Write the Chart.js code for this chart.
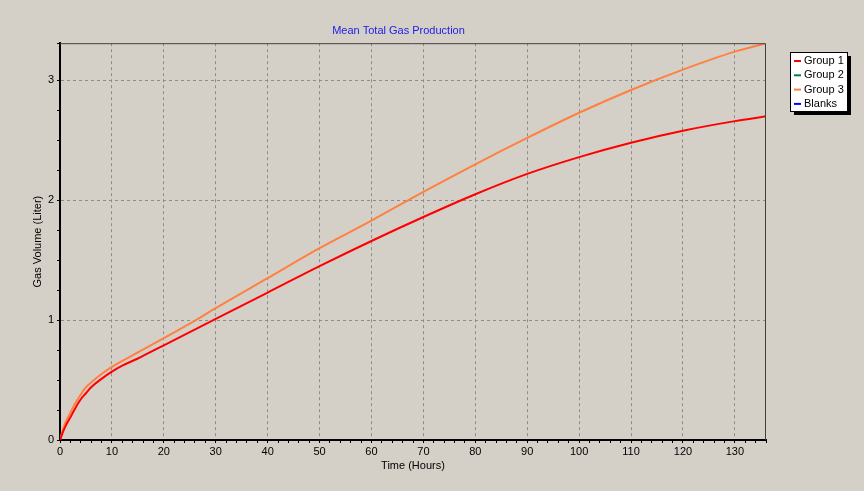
<!DOCTYPE html>
<html>
<head>
<meta charset="utf-8">
<script src="https://cdn.jsdelivr.net/npm/chart.js@4.4.1/dist/chart.umd.min.js"></script>
<style>
  html, body { margin: 0; padding: 0; background: #d4d0c8; }
  #wrap { width: 864px; height: 491px; position: relative; }
</style>
</head>
<body>
<div id="wrap"><canvas id="gasChart" width="864" height="491"></canvas></div>
<script>
// values
const hours = [0, 0.5, 1, 2, 3, 4, 5, 6, 8, 10, 12, 15, 20, 25, 30, 40, 50, 60, 70, 80, 90, 100, 110, 120, 130, 136];
const group1 = [0, 0.06, 0.11, 0.19, 0.27, 0.34, 0.39, 0.44, 0.51, 0.57, 0.62, 0.68, 0.79, 0.90, 1.01, 1.23, 1.45, 1.66, 1.86, 2.05, 2.22, 2.36, 2.48, 2.58, 2.66, 2.70];
const group2 = [];
const group3 = [0, 0.08, 0.14, 0.23, 0.31, 0.38, 0.44, 0.48, 0.55, 0.61, 0.66, 0.73, 0.85, 0.97, 1.10, 1.35, 1.60, 1.83, 2.07, 2.30, 2.52, 2.73, 2.92, 3.09, 3.24, 3.31];
const blanks = [];
const seriesNames = ['Group 1', 'Group 2', 'Group 3', 'Blanks'];
const seriesColors = ['#ff0000', '#008040', '#ff8040', '#0000ff'];

const toPoints = (vals) => vals.map((v, i) => ({ x: hours[i], y: v }));

const FONT = 'Arial, "Liberation Sans", sans-serif';

// legend box at the right, drawn by hand like the old control did
const boxLegend = {
  id: 'boxLegend',
  afterDraw(chart) {
    const ctx = chart.ctx;
    const x = 790, y = 52, w = 57, h = 59;
    ctx.save();
    ctx.fillStyle = '#000';
    ctx.fillRect(x + 4, y + 4, w, h);
    ctx.fillStyle = '#fff';
    ctx.fillRect(x, y, w, h);
    ctx.strokeStyle = '#000';
    ctx.lineWidth = 1;
    ctx.strokeRect(x + 0.5, y + 0.5, w, h);
    ctx.font = '11px ' + FONT;
    ctx.textBaseline = 'middle';
    chart.data.datasets.forEach((ds, i) => {
      const ry = 61 + i * 14.3;
      ctx.strokeStyle = ds.borderColor;
      ctx.lineWidth = 2;
      ctx.beginPath();
      ctx.moveTo(794, ry);
      ctx.lineTo(801, ry);
      ctx.stroke();
      ctx.fillStyle = '#000';
      ctx.fillText(ds.label, 804, ry);
    });
    ctx.restore();
  }
};

// plot frame: thin grey on top/right
const frame = {
  id: 'frame',
  afterDatasetsDraw(chart) {
    const { left, right, top, bottom } = chart.chartArea;
    const ctx = chart.ctx;
    ctx.save();
    ctx.strokeStyle = '#404040';
    ctx.lineWidth = 1;
    ctx.beginPath();
    ctx.moveTo(left, top + 0.5);
    ctx.lineTo(right - 0.5, top + 0.5);
    ctx.lineTo(right - 0.5, bottom);
    ctx.stroke();
    ctx.restore();
  }
};

const gridCol = (isMajor) => isMajor ? '#8c8c8c' : 'rgba(0,0,0,0)';

new Chart(document.getElementById('gasChart'), {
  type: 'line',
  data: {
    datasets: [
      { label: seriesNames[0], data: toPoints(group1), borderColor: seriesColors[0], order: 0 },
      { label: seriesNames[1], data: toPoints(group2), borderColor: seriesColors[1], order: 1 },
      { label: seriesNames[2], data: toPoints(group3), borderColor: seriesColors[2], order: 2 },
      { label: seriesNames[3], data: toPoints(blanks), borderColor: seriesColors[3], order: 3 }
    ]
  },
  options: {
    responsive: false,
    animation: false,
    layout: { padding: { left: 31, right: 98, top: 0, bottom: 0 } },
    elements: {
      point: { radius: 0 },
      line: { borderWidth: 2, cubicInterpolationMode: 'monotone', fill: false }
    },
    plugins: {
      legend: { display: false },
      tooltip: { enabled: false },
      title: {
        display: true,
        text: 'Mean Total Gas Production',
        color: '#2020e8',
        font: { family: FONT, size: 11, weight: 'normal' },
        padding: { top: 24, bottom: 6 }
      }
    },
    scales: {
      x: {
        type: 'linear',
        min: 0,
        max: 136,
        afterFit: (s) => { s.height = 51; },
        border: { color: '#000', width: 2, dash: [3, 3] },
        grid: {
          color: (c) => gridCol(c.tick && c.tick.value % 10 === 0 && c.tick.value > 0),
          tickColor: '#000',
          tickLength: 3,
          tickBorderDash: []
        },
        ticks: {
          stepSize: 2,
          autoSkip: false,
          maxRotation: 0,
          padding: 2,
          color: '#000',
          font: { family: FONT, size: 11 },
          callback: (v) => v % 10 === 0 ? v : ''
        },
        title: {
          display: true,
          text: 'Time (Hours)',
          color: '#000',
          font: { family: FONT, size: 11 },
          padding: { top: 0, bottom: 18 }
        }
      },
      y: {
        min: 0,
        max: 3.31,
        afterFit: (s) => { s.width = 29; },
        border: { color: '#000', width: 2, dash: [3, 3] },
        grid: {
          color: (c) => gridCol(c.tick && Number.isInteger(c.tick.value) && c.tick.value > 0),
          tickColor: '#000',
          tickLength: 3,
          tickBorderDash: []
        },
        ticks: {
          stepSize: 0.25,
          autoSkip: false,
          padding: 3,
          color: '#000',
          font: { family: FONT, size: 11 },
          callback: (v) => Number.isInteger(v) ? v : ''
        },
        title: {
          display: true,
          text: 'Gas Volume (Liter)',
          color: '#000',
          font: { family: FONT, size: 11 },
          padding: { top: 0, bottom: 0 }
        }
      }
    }
  },
  plugins: [frame, boxLegend]
});
</script>
</body>
</html>
